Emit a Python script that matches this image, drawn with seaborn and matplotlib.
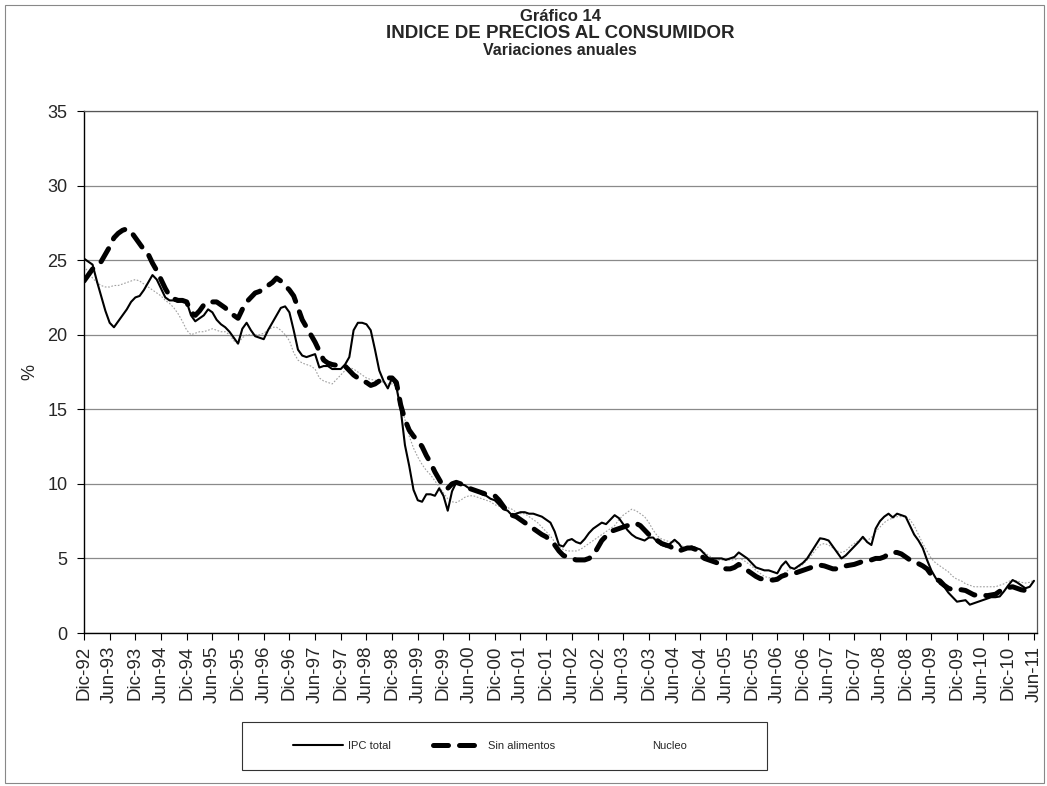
import numpy as np
import pandas as pd
import matplotlib
matplotlib.use("Agg")
import matplotlib.pyplot as plt
import seaborn as sns
from matplotlib.patches import Rectangle

# ---------------- data (monthly, Dic-92 .. Jun-11) ----------------
ipc_total = [25.1,
    24.9, 24.7, 23.6, 22.6, 21.6, 20.8, 20.5, 20.9, 21.3, 21.7, 22.2, 22.5,
    22.6, 23.0, 23.5, 24.0, 23.7, 23.1, 22.5, 22.3, 22.3, 22.2, 22.3, 22.2,
    21.3, 20.9, 21.1, 21.3, 21.7, 21.5, 21.0, 20.7, 20.5, 20.2, 19.8, 19.4,
    20.4, 20.8, 20.3, 19.9, 19.8, 19.7, 20.3, 20.8, 21.3, 21.8, 21.9, 21.5,
    20.3, 19.0, 18.6, 18.5, 18.6, 18.7, 17.8, 17.9, 17.9, 17.7, 17.7, 17.7,
    18.0, 18.5, 20.3, 20.8, 20.8, 20.7, 20.3, 19.0, 17.6, 16.9, 16.4, 17.1,
    16.5, 15.0, 12.6, 11.2, 9.6, 8.9, 8.8, 9.3, 9.3, 9.2, 9.7, 9.2,
    8.2, 9.5, 10.1, 10.0, 9.9, 9.7, 9.6, 9.5, 9.3, 9.2, 9.0, 8.9,
    8.6, 8.3, 8.2, 7.9, 8.0, 8.1, 8.1, 8.0, 8.0, 7.9, 7.8, 7.6,
    7.4, 6.8, 5.9, 5.8, 6.2, 6.3, 6.1, 6.0, 6.3, 6.7, 7.0, 7.2,
    7.4, 7.3, 7.6, 7.9, 7.7, 7.3, 6.9, 6.6, 6.4, 6.3, 6.2, 6.4,
    6.4, 6.1, 5.9, 5.8, 6.0, 6.25, 6.0, 5.6, 5.7, 5.8, 5.7, 5.6,
    5.3, 5.0, 5.0, 5.0, 5.0, 4.9, 5.0, 5.1, 5.4, 5.2, 5.0, 4.7,
    4.4, 4.3, 4.2, 4.2, 4.1, 4.0, 4.5, 4.8, 4.4, 4.3, 4.5, 4.7,
    5.0, 5.45, 5.9, 6.35, 6.3, 6.2, 5.8, 5.4, 5.0, 5.2, 5.5, 5.8,
    6.1, 6.45, 6.1, 5.9, 7.0, 7.5, 7.8, 8.0, 7.75, 8.0, 7.9, 7.8,
    7.2, 6.6, 6.2, 5.7, 4.9, 4.2, 3.7, 3.3, 3.1, 2.7, 2.4, 2.1,
    2.15, 2.2, 1.9, 2.0, 2.1, 2.2, 2.3, 2.4, 2.4, 2.45, 2.8, 3.2,
    3.55, 3.4, 3.2, 3.0, 3.1, 3.5]

sin_alimentos = [23.6,
    24.0, 24.4, 24.7, 24.9, 25.4, 25.9, 26.5, 26.8, 27.0, 27.1, 26.9, 26.5,
    26.1, 25.7, 25.4, 24.8, 24.3, 23.7, 23.1, 22.6, 22.4, 22.3, 22.3, 22.2,
    21.5, 21.3, 21.6, 22.0, 22.2, 22.2, 22.2, 22.0, 21.8, 21.5, 21.3, 21.1,
    21.7, 22.2, 22.5, 22.8, 22.9, 23.1, 23.3, 23.5, 23.8, 23.6, 23.3, 23.0,
    22.6, 21.8, 21.0, 20.5, 20.0, 19.5, 18.9, 18.3, 18.1, 18.0, 17.95, 18.0,
    17.9, 17.6, 17.3, 17.1, 16.9, 16.8, 16.6, 16.7, 16.9, 17.0, 17.1, 17.1,
    16.8, 15.3, 14.3, 13.6, 13.2, 12.9, 12.5, 11.9, 11.4, 10.8, 10.3, 9.8,
    9.7, 10.0, 10.1, 10.0, 9.8, 9.7, 9.6, 9.5, 9.4, 9.3, 9.25, 9.2,
    8.9, 8.5, 8.1, 7.9, 7.8, 7.6, 7.4, 7.2, 7.0, 6.8, 6.6, 6.45,
    6.2, 5.9, 5.5, 5.2, 5.1, 5.0, 4.9, 4.9, 4.9, 5.0, 5.2, 5.7,
    6.2, 6.5, 6.8, 6.9, 7.0, 7.1, 7.2, 7.3, 7.35, 7.2, 6.9, 6.6,
    6.4, 6.2, 6.0, 5.9, 5.8, 5.6, 5.5, 5.6, 5.7, 5.7, 5.6, 5.2,
    5.0, 4.9, 4.8, 4.7, 4.5, 4.3, 4.3, 4.4, 4.6, 4.4, 4.2, 4.0,
    3.8, 3.65, 3.6, 3.55, 3.55, 3.6, 3.8, 3.9, 4.0, 4.0, 4.1, 4.2,
    4.3, 4.4, 4.5, 4.55, 4.5, 4.4, 4.3, 4.3, 4.4, 4.5, 4.55, 4.6,
    4.7, 4.8, 4.85, 4.9, 5.0, 5.0, 5.1, 5.3, 5.4, 5.4, 5.3, 5.1,
    4.9, 4.8, 4.65, 4.5, 4.3, 3.9, 3.6, 3.5, 3.2, 3.0, 2.9, 2.9,
    2.9, 2.85, 2.7, 2.55, 2.55, 2.55, 2.5, 2.55, 2.6, 2.8, 3.0, 3.05,
    3.1, 3.0, 2.9, 2.85, 2.95, 3.05]

nucleo = [24.6,
    24.2, 23.8, 23.5, 23.3, 23.2, 23.2, 23.3, 23.3, 23.4, 23.5, 23.6, 23.7,
    23.6, 23.4, 23.2, 23.0, 22.8, 22.6, 22.3, 22.1, 21.8, 21.4, 20.9, 20.3,
    20.0, 20.1, 20.2, 20.2, 20.3, 20.4, 20.3, 20.2, 20.2, 20.0, 19.6, 19.4,
    19.8, 20.0, 20.0, 20.0, 20.0, 20.1, 20.3, 20.5, 20.5, 20.3, 20.0, 19.6,
    18.8, 18.3, 18.1, 18.0, 17.9, 17.7, 17.1, 16.9, 16.8, 16.7, 17.0, 17.3,
    17.6, 17.8, 17.7, 17.5, 17.3, 17.1, 17.0, 16.95, 16.9, 16.8, 16.7, 16.7,
    16.5, 15.5, 14.3, 13.2, 12.4, 11.8, 11.3, 10.9, 10.6, 10.2, 9.8, 9.4,
    9.0, 8.8, 8.75, 8.9, 9.1, 9.2, 9.2, 9.1, 9.0, 8.9, 8.8, 8.6,
    8.5, 8.5, 8.4, 8.3, 8.1, 8.0, 8.0, 7.8, 7.6, 7.4, 7.1, 6.8,
    6.5, 6.1, 5.8, 5.6, 5.5, 5.5, 5.5, 5.6, 5.8, 6.0, 6.2, 6.4,
    6.6, 6.8, 7.0, 7.2, 7.6, 7.9, 8.1, 8.3, 8.2, 8.0, 7.8, 7.4,
    6.9, 6.5, 6.3, 6.2, 6.1, 6.1, 6.0, 5.8, 5.7, 5.7, 5.6, 5.6,
    5.4, 5.2, 5.0, 4.9, 4.9, 4.9, 4.9, 4.9, 5.0, 4.9, 4.7, 4.5,
    4.2, 4.0, 3.8, 3.7, 3.7, 3.75, 3.9, 4.1, 4.3, 4.3, 4.4, 4.6,
    4.9, 5.2, 5.6, 5.9, 6.0, 5.9, 5.7, 5.5, 5.4, 5.5, 5.8, 6.0,
    6.2, 6.3, 6.2, 6.4, 6.8, 7.1, 7.4, 7.6, 7.7, 7.8, 7.8, 7.8,
    7.6, 7.2, 6.6, 6.0, 5.5, 5.0, 4.7, 4.5, 4.3, 4.1, 3.8, 3.6,
    3.5, 3.3, 3.2, 3.1, 3.1, 3.1, 3.1, 3.1, 3.1, 3.2, 3.3, 3.45,
    3.55, 3.5, 3.4, 3.35, 3.4, 3.55]

tick_labels = ["Dic-92", "Jun-93", "Dic-93", "Jun-94", "Dic-94", "Jun-95", "Dic-95",
               "Jun-96", "Dic-96", "Jun-97", "Dic-97", "Jun-98", "Dic-98", "Jun-99",
               "Dic-99", "Jun-00", "Dic-00", "Jun-01", "Dic-01", "Jun-02", "Dic-02",
               "Jun-03", "Dic-03", "Jun-04", "Dic-04", "Jun-05", "Dic-05", "Jun-06",
               "Dic-06", "Jun-07", "Dic-07", "Jun-08", "Dic-08", "Jun-09", "Dic-09",
               "Jun-10", "Dic-10", "Jun-11"]
series_names = ["IPC total", "Sin alimentos", "Nucleo"]
title_lines = ["Gráfico 14", "INDICE DE PRECIOS AL CONSUMIDOR", "Variaciones anuales"]

# ---------------- figure ----------------
sns.set_style("white")
plt.rcParams['font.family'] = ['Liberation Sans', 'DejaVu Sans']

df = pd.DataFrame({"mes": np.arange(len(ipc_total)),
                   series_names[0]: ipc_total,
                   series_names[1]: sin_alimentos,
                   series_names[2]: nucleo})

W, H = 1047, 786
fig = plt.figure(figsize=(W / 100, H / 100), dpi=100)
ax = fig.add_axes([84 / W, 1 - 633 / H, (1037 - 84) / W, (633 - 111) / H])

sns.lineplot(data=df, x="mes", y=series_names[2], ax=ax, color="#a0a0a0",
             linewidth=0.8, linestyle=(0, (1.5, 1.5)), label=series_names[2])
sns.lineplot(data=df, x="mes", y=series_names[1], ax=ax, color="black",
             linewidth=3.6, linestyle=(0, (3.0, 2.2)), label=series_names[1],
             dash_capstyle="round")
sns.lineplot(data=df, x="mes", y=series_names[0], ax=ax, color="black",
             linewidth=1.5, label=series_names[0])

ax.set_xlim(0, 222.7)
ax.set_ylim(0, 35)
ax.set_yticks(np.arange(0, 36, 5))
ax.set_yticklabels([str(v) for v in range(0, 36, 5)], fontsize=13)
ax.set_xticks(np.arange(0, 6 * len(tick_labels), 6))
ax.set_xticklabels(tick_labels, rotation=90, fontsize=13.5)
ax.tick_params(axis="both", direction="out", length=5, width=0.8, color="black",
               left=True, bottom=True)
ax.tick_params(axis="y", pad=7)
ax.tick_params(axis="x", pad=4)
ax.set_xlabel("")
ax.set_ylabel("%", fontsize=13, va="center")
ax.yaxis.set_label_coords((30 - 84) / (1037 - 84), 0.5)
ax.yaxis.grid(True, color="#8a8a8a", linewidth=0.9)
ax.set_axisbelow(True)
for side in ["left", "bottom"]:
    ax.spines[side].set_color("black")
    ax.spines[side].set_linewidth(1.0)
for side in ["top", "right"]:
    ax.spines[side].set_color("#555555")
    ax.spines[side].set_linewidth(0.9)

# title (baselines as in the reference)
title_sizes = [12, 13.5, 11.5]
title_base = [21, 38, 55]
for t, s, y in zip(title_lines, title_sizes, title_base):
    fig.text(560 / W, 1 - y / H, t, ha="center", va="baseline",
             fontsize=s, fontweight="bold")

# legend (frame drawn separately, entries placed as in the reference)
leg0 = ax.get_legend()
if leg0 is not None:
    leg0.remove()
handles, labels = ax.get_legend_handles_labels()
order = [labels.index(n) for n in series_names]
leg = fig.legend([handles[i] for i in order], [labels[i] for i in order],
                 loc="center", bbox_to_anchor=(490 / W, 1 - 746 / H),
                 ncol=3, fontsize=8, frameon=False, handlelength=4.5,
                 handletextpad=0.45, columnspacing=3.8)
leg.legend_handles[2].set_visible(False)
fig.patches.append(Rectangle((242 / W, 1 - 770 / H), 525 / W, 48 / H,
                             transform=fig.transFigure, fill=False,
                             edgecolor="#333333", linewidth=0.8))

# outer frame
fig.patches.append(Rectangle((5 / W, 3 / H), 1039 / W, 778 / H, transform=fig.transFigure,
                             fill=False, edgecolor="#888888", linewidth=0.8))

fig.savefig("out.png", dpi=100)
